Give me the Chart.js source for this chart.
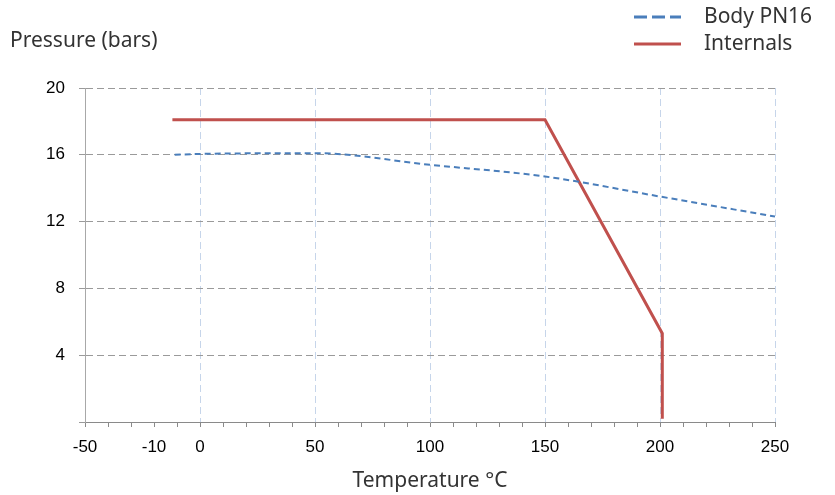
<!DOCTYPE html>
<html>
<head>
<meta charset="utf-8">
<title>Pressure vs temperature</title>
<script src="https://cdn.jsdelivr.net/npm/chart.js@4"></script>
<style>
  html, body { margin: 0; padding: 0; background: #fff; }
  #wrap { position: relative; width: 835px; height: 495px; }
</style>
</head>
<body>
<div id="wrap"><canvas id="chart"></canvas></div>
<script>
  // values
  const bodyTemp = [-11, 0, 50, 100, 150, 200, 250];
  const bodyPressure = [16.0, 16.05, 16.1, 15.4, 14.7, 13.5, 12.3];

  const internalsTemp = [-12, 150, 201, 201];
  const internalsPressure = [18.1, 18.1, 5.3, 0.2];

  const xMajorTicks = [0, 50, 100, 150, 200, 250];
  const xEdgeLabels = [-50];
  const xNudgedLabel = -10; // drawn a little to the left so it clears "0"

  const BLUE = "#4a7ebb";
  const RED = "#c0504d";
  const TEXT = "#333333";
  const TITLE_FONT = "'Noto Sans', sans-serif";
  const TICK_FONT = "'Liberation Sans', Arial, sans-serif";

  const toPoints = (xs, ys) => xs.map((x, i) => ({ x, y: ys[i] }));

  const series = [
    { label: "Body PN16", color: BLUE, dash: [13, 5], legendWidth: 3 },
    { label: "Internals", color: RED, dash: [], legendWidth: 3 },
  ];

  // y title at the top-left, legend at the top-right, nudged -10 label
  const extrasPlugin = {
    id: "extras",
    afterDraw(chart) {
      const { ctx } = chart;
      ctx.save();

      ctx.fillStyle = TEXT;
      ctx.font = "21px " + TITLE_FONT;
      ctx.textAlign = "left";
      ctx.textBaseline = "middle";
      ctx.fillText("Pressure (bars)", 10, 41);

      series.forEach((s, i) => {
        const y = 17 + i * 27;
        ctx.beginPath();
        ctx.strokeStyle = s.color;
        ctx.lineWidth = s.legendWidth;
        ctx.setLineDash(s.dash);
        ctx.moveTo(634, y);
        ctx.lineTo(681, y);
        ctx.stroke();
        ctx.setLineDash([]);
        ctx.fillStyle = TEXT;
        ctx.fillText(s.label, 704, y);
      });

      const xs = chart.scales.x;
      ctx.fillStyle = "#000";
      ctx.font = "17px " + TICK_FONT;
      ctx.textAlign = "center";
      ctx.textBaseline = "top";
      ctx.fillText(String(xNudgedLabel), xs.getPixelForValue(xNudgedLabel) - 23, xs.top + 17);

      ctx.restore();
    },
  };

  new Chart(document.getElementById("chart").getContext("2d"), {
    type: "line",
    data: {
      datasets: [
        {
          label: series[0].label,
          data: toPoints(bodyTemp, bodyPressure),
          borderColor: BLUE,
          borderWidth: 2,
          borderDash: [6, 4],
          cubicInterpolationMode: "monotone",
          pointRadius: 0,
          fill: false,
        },
        {
          label: series[1].label,
          data: toPoints(internalsTemp, internalsPressure),
          borderColor: RED,
          borderWidth: 3,
          tension: 0,
          pointRadius: 0,
          fill: false,
        },
      ],
    },
    options: {
      responsive: true,
      maintainAspectRatio: false,
      animation: false,
      layout: { padding: { left: 0, right: 60, top: 88, bottom: 0 } },
      plugins: {
        legend: { display: false },
        tooltip: { enabled: false },
      },
      scales: {
        x: {
          type: "linear",
          min: -50,
          max: 250,
          afterFit(scale) { scale.height = 73; },
          ticks: {
            stepSize: 10,
            autoSkip: false,
            maxRotation: 0,
            padding: 10,
            color: "#000",
            font: { family: TICK_FONT, size: 17 },
            callback: (v) => (xMajorTicks.includes(v) || xEdgeLabels.includes(v) ? String(v) : ""),
          },
          grid: {
            color: (c) => (c.tick && xMajorTicks.includes(c.tick.value) ? "#c6d5ea" : "transparent"),
            lineWidth: 1,
            tickColor: "#8a8a8a",
            tickLength: 5,
          },
          border: { color: "#8a8a8a", width: 1, dash: [7, 4] },
          title: {
            display: true,
            text: "Temperature \u00b0C",
            color: TEXT,
            font: { family: TITLE_FONT, size: 21 },
            padding: { top: 0, bottom: 1 },
          },
        },
        y: {
          min: 0,
          max: 20,
          afterFit(scale) { scale.width = 85; },
          ticks: {
            stepSize: 4,
            padding: 14,
            color: "#000",
            font: { family: TICK_FONT, size: 17 },
            callback: (v) => (v === 0 ? "" : String(v)),
          },
          grid: {
            color: (c) => (c.tick && c.tick.value === 0 ? "transparent" : "#9a9a9a"),
            lineWidth: 1,
            tickColor: "#9a9a9a",
            tickLength: 6,
          },
          border: { color: "#a8a8a8", width: 1, dash: [7, 4] },
        },
      },
    },
    plugins: [extrasPlugin],
  });
</script>
</body>
</html>
